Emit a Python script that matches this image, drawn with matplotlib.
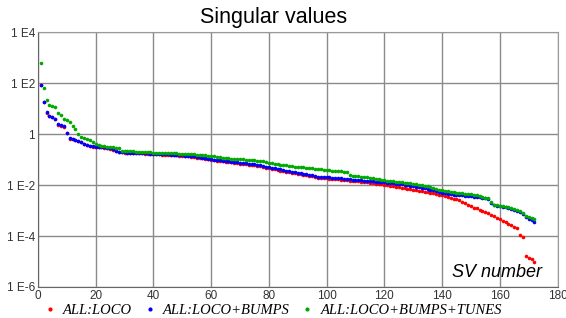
import numpy as np
import matplotlib

matplotlib.use("Agg")
import matplotlib.pyplot as plt
from matplotlib.ticker import FixedLocator, FixedFormatter
from matplotlib.lines import Line2D

# log10 of singular values (SV number 1..172)
loco = [
    1.92, 1.24, 0.84, 0.70, 0.66, 0.59, 0.37, 0.33, 0.29, 0.04,
    -0.18, -0.20, -0.25, -0.28, -0.31, -0.39, -0.44, -0.48, -0.49, -0.51,
    -0.52, -0.52, -0.53, -0.55, -0.57, -0.61, -0.68, -0.70, -0.72, -0.73,
    -0.74, -0.74, -0.75, -0.75, -0.76, -0.76, -0.77, -0.77, -0.78, -0.79,
    -0.80, -0.80, -0.81, -0.81, -0.82, -0.83, -0.84, -0.84, -0.85, -0.86, -0.87, -0.88,
    -0.89, -0.90, -0.92, -0.93, -0.95, -0.97, -0.99, -1.01,
    -1.03, -1.04, -1.05, -1.07, -1.08,
    -1.09, -1.11, -1.12, -1.14, -1.16, -1.17, -1.19, -1.20, -1.22,
    -1.23, -1.25, -1.27, -1.29, -1.32, -1.35,
    -1.37, -1.39, -1.41, -1.43, -1.46, -1.48,
    -1.50, -1.52, -1.54, -1.56, -1.58, -1.60, -1.62, -1.64, -1.66, -1.68, -1.71,
    -1.72, -1.73, -1.74, -1.75, -1.76, -1.77, -1.78, -1.79, -1.80, -1.81,
    -1.83, -1.84, -1.85, -1.86, -1.87, -1.88, -1.90, -1.91, -1.92, -1.94, -1.95, -1.96,
    -1.98, -2.00, -2.02, -2.04, -2.07, -2.09, -2.11, -2.13, -2.15, -2.17, -2.19, -2.21,
    -2.23, -2.25, -2.27, -2.29, -2.31, -2.33, -2.35, -2.38,
    -2.41, -2.44, -2.47, -2.50, -2.53, -2.56, -2.60, -2.66, -2.72,
    -2.78, -2.84, -2.89, -2.92, -2.96, -3.01, -3.06,
    -3.10, -3.16, -3.22, -3.28, -3.33, -3.40,
    -3.46, -3.52, -3.58, -3.64,
    -3.70, -3.96, -4.05,
    -4.78, -4.85, -4.92, -5.00,
]

loco_bumps = [
    1.93, 1.25, 0.85, 0.71, 0.67, 0.60, 0.39, 0.34, 0.30, 0.05,
    -0.17, -0.19, -0.24, -0.27, -0.30, -0.38, -0.43, -0.47, -0.48, -0.50,
    -0.51, -0.51, -0.52, -0.54, -0.56, -0.60, -0.67, -0.69, -0.71, -0.72,
    -0.73, -0.73, -0.74, -0.74, -0.75, -0.75, -0.76, -0.76, -0.77, -0.78,
    -0.78, -0.79, -0.79, -0.80, -0.80, -0.81, -0.82, -0.82, -0.83, -0.84, -0.85, -0.86,
    -0.87, -0.88, -0.90, -0.91, -0.93, -0.95, -0.97, -0.99,
    -1.00, -1.01, -1.02, -1.04, -1.05,
    -1.06, -1.08, -1.09, -1.10, -1.12, -1.13, -1.15, -1.16, -1.18,
    -1.19, -1.21, -1.23, -1.25, -1.28, -1.31,
    -1.33, -1.35, -1.37, -1.39, -1.42, -1.44,
    -1.46, -1.48, -1.50, -1.52, -1.54, -1.56, -1.58, -1.60, -1.62, -1.64, -1.67,
    -1.68, -1.69, -1.70, -1.70, -1.71, -1.72, -1.73, -1.74, -1.75, -1.76,
    -1.78,
    -1.79, -1.80, -1.81, -1.82, -1.83, -1.84, -1.85, -1.86, -1.87, -1.88, -1.89,
    -1.90, -1.91, -1.92, -1.93, -1.94, -1.96, -1.97, -1.99, -2.01, -2.03, -2.05, -2.07,
    -2.09, -2.11, -2.13, -2.15, -2.18, -2.21, -2.24, -2.27,
    -2.30, -2.32, -2.34, -2.36, -2.38, -2.39, -2.40, -2.41, -2.42, -2.43, -2.44, -2.45,
    -2.46, -2.48, -2.50, -2.52,
    -2.54, -2.70, -2.80,
    -2.82, -2.84, -2.86, -2.88, -2.90, -2.93, -2.96,
    -3.00, -3.05, -3.15, -3.25, -3.32, -3.38, -3.44,
]

loco_bumps_tunes = [
    2.80, 1.79, 1.35, 1.15, 1.11, 1.05, 0.81, 0.75, 0.60, 0.55,
    0.48, 0.33, 0.20, 0.01, -0.10, -0.17, -0.21, -0.25, -0.30, -0.40,
    -0.44, -0.46, -0.48, -0.49, -0.50, -0.52, -0.53, -0.56, -0.66, -0.67,
    -0.67, -0.68, -0.68, -0.69, -0.69, -0.70, -0.70, -0.71, -0.72, -0.73,
    -0.73, -0.74, -0.74, -0.74, -0.75, -0.75, -0.76, -0.76, -0.77, -0.77, -0.78, -0.78,
    -0.79, -0.80, -0.81, -0.82, -0.83, -0.84, -0.85, -0.86,
    -0.88, -0.90, -0.91, -0.93, -0.94,
    -0.95, -0.96, -0.97, -0.98, -0.98, -0.99, -1.00, -1.01, -1.02,
    -1.03, -1.04, -1.05, -1.06, -1.08, -1.12,
    -1.14, -1.16, -1.18, -1.20, -1.22, -1.23,
    -1.25, -1.26, -1.28, -1.29, -1.30, -1.31, -1.33, -1.34, -1.35, -1.36, -1.38,
    -1.39, -1.40, -1.41, -1.42, -1.43, -1.44, -1.45, -1.46, -1.47, -1.48,
    -1.61,
    -1.63, -1.64, -1.66, -1.67, -1.69, -1.70, -1.72, -1.74, -1.76, -1.78, -1.80,
    -1.81, -1.83, -1.84, -1.85, -1.87, -1.88, -1.89, -1.91, -1.92, -1.93, -1.95, -1.96,
    -1.98, -2.00, -2.02, -2.04, -2.07, -2.10, -2.14, -2.18,
    -2.21, -2.23, -2.25, -2.27, -2.29, -2.31, -2.32, -2.33, -2.34, -2.35, -2.36, -2.38,
    -2.40, -2.43, -2.46, -2.49,
    -2.52, -2.65, -2.78,
    -2.79, -2.81, -2.83, -2.85, -2.87, -2.90, -2.93,
    -2.96, -3.00, -3.10, -3.20, -3.26, -3.30, -3.35,
]

series = [
    ("ALL:LOCO", loco, "#ff0000"),
    ("ALL:LOCO+BUMPS", loco_bumps, "#0000ff"),
    ("ALL:LOCO+BUMPS+TUNES", loco_bumps_tunes, "#00aa00"),
]

y_ticks = [1e4, 1e2, 1, 1e-2, 1e-4, 1e-6]
y_labels = ["1 E4", "1 E2", "1", "1 E-2", "1 E-4", "1 E-6"]
x_ticks = list(range(0, 181, 20))

fig = plt.figure(figsize=(5.66, 3.18), dpi=100)
ax = fig.add_axes([0.067, 0.0975, 0.918, 0.8015])

for name, vals, color in series:
    sv = 10.0 ** np.array(vals)
    ax.plot(np.arange(1, len(sv) + 1), sv, ls="none", marker="o",
            ms=2.6, mew=0, color=color, label=name)

ax.set_yscale("log")
ax.set_xlim(0, 180)
ax.set_ylim(1e-6, 1e4)
ax.yaxis.set_major_locator(FixedLocator(y_ticks))
ax.yaxis.set_major_formatter(FixedFormatter(y_labels))
ax.yaxis.set_minor_locator(FixedLocator([]))
ax.set_xticks(x_ticks)
ax.tick_params(length=0, labelsize=8.5, labelcolor="#333333", pad=2)
for lab in ax.get_xticklabels() + ax.get_yticklabels():
    lab.set_family("Liberation Sans")
ax.grid(True, color="#8a8a8a", lw=1)
ax.set_axisbelow(True)
for side in ["top", "right"]:
    ax.spines[side].set_color("#9a9a9a")
for side in ["left", "bottom"]:
    ax.spines[side].set_color("#666666")

fig.text(0.483, 0.945, "Singular values", ha="center", va="center",
         fontsize=15.5, family="Liberation Sans")
ax.text(0.97, 0.025, "SV number", transform=ax.transAxes, ha="right",
        va="bottom", fontsize=13, style="italic", family="Liberation Sans")

handles = [Line2D([], [], ls="none", marker="o", ms=3, mew=0, color=c)
           for _, _, c in series]
fig.legend(handles, [s[0] for s in series], loc="lower left",
           bbox_to_anchor=(0.055, -0.037), ncol=3, frameon=False,
           prop={"family": "Liberation Serif", "style": "italic", "size": 10.5},
           handlelength=0.8, handletextpad=0.5, columnspacing=0.8)

fig.savefig("out.png", dpi=100)
